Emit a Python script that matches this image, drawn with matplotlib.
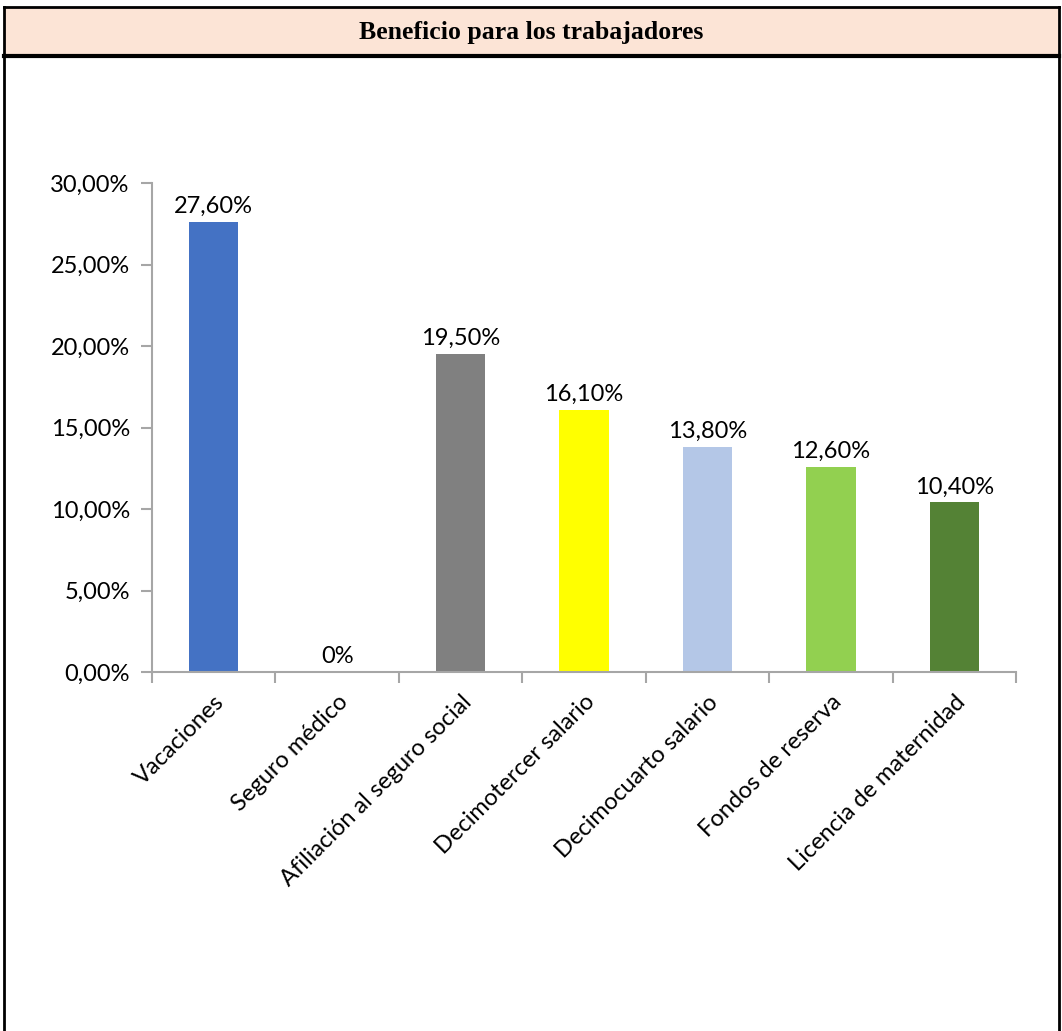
import matplotlib
matplotlib.use('Agg')
import matplotlib.pyplot as plt
from matplotlib.patches import Rectangle
from matplotlib.lines import Line2D

# datos
categorias = ['Vacaciones', 'Seguro médico', 'Afiliación al seguro social',
              'Decimotercer salario', 'Decimocuarto salario', 'Fondos de reserva',
              'Licencia de maternidad']
valores = [27.6, 0.0, 19.5, 16.1, 13.8, 12.6, 10.4]
etiquetas = ['27,60%', '0%', '19,50%', '16,10%', '13,80%', '12,60%', '10,40%']
colores = ['#4472C4', '#4472C4', '#808080', '#FFFF00', '#B4C7E7', '#92D050', '#548235']
ticks_y = [0, 5, 10, 15, 20, 25, 30]
ticks_y_txt = ['0,00%', '5,00%', '10,00%', '15,00%', '20,00%', '25,00%', '30,00%']

W, H = 1062, 1031
fig = plt.figure(figsize=(W / 100, H / 100), dpi=100)
fuente = ['Lato', 'DejaVu Sans']
tam = 17

# marco tipo tabla con cabecera
fig.patches.append(Rectangle((4 / W, 1 - 56 / H), (1058 - 4) / W, (56 - 7) / H,
                             transform=fig.transFigure, facecolor='#FCE4D6',
                             edgecolor='none', zorder=0))
lineas = [((4, 4), (7, H)), ((4, 1059), (7, 7)), ((1059, 1059), (7, H)), ((4, 1059), (56, 56))]
for xs, ys in lineas:
    lw = 3 if ys == (56, 56) else 2
    fig.lines.append(Line2D([x / W for x in xs], [1 - y / H for y in ys],
                            transform=fig.transFigure, color='black', lw=lw))
fig.text(0.5, 1 - 32 / H, 'Beneficio para los trabajadores', ha='center', va='center',
         fontsize=18.5, fontweight='bold', family='Liberation Serif')

ax = fig.add_axes([152 / W, 1 - 672 / H, (1016 - 152) / W, (672 - 183) / H])
x = list(range(len(categorias)))
ax.bar(x, valores, width=0.4, color=colores)
for xi, v, t in zip(x, valores, etiquetas):
    ax.text(xi, v + 0.3, t, ha='center', va='bottom', fontsize=tam, family=fuente)

ax.set_xlim(-0.5, len(categorias) - 0.5)
ax.set_ylim(0, 30)
ax.set_yticks(ticks_y)
ax.set_yticklabels(ticks_y_txt, fontsize=tam, family=fuente)
ax.set_xticks([i - 0.5 for i in range(len(categorias) + 1)], minor=False)
ax.set_xticklabels([])
ax.set_xticks(x, minor=True)
ax.set_xticklabels(categorias, minor=True, rotation=45, ha='right', rotation_mode='anchor',
                   fontsize=tam, family=fuente)
ax.tick_params(axis='x', which='minor', length=0, pad=14)
ax.tick_params(axis='x', which='major', length=8, color='#A6A6A6', width=1.5)
ax.tick_params(axis='y', length=8, color='#A6A6A6', width=1.5, pad=8)
for s in ['top', 'right']:
    ax.spines[s].set_visible(False)
for s in ['left', 'bottom']:
    ax.spines[s].set_color('#A6A6A6')
    ax.spines[s].set_linewidth(1.5)

fig.savefig('out.png', dpi=100)
